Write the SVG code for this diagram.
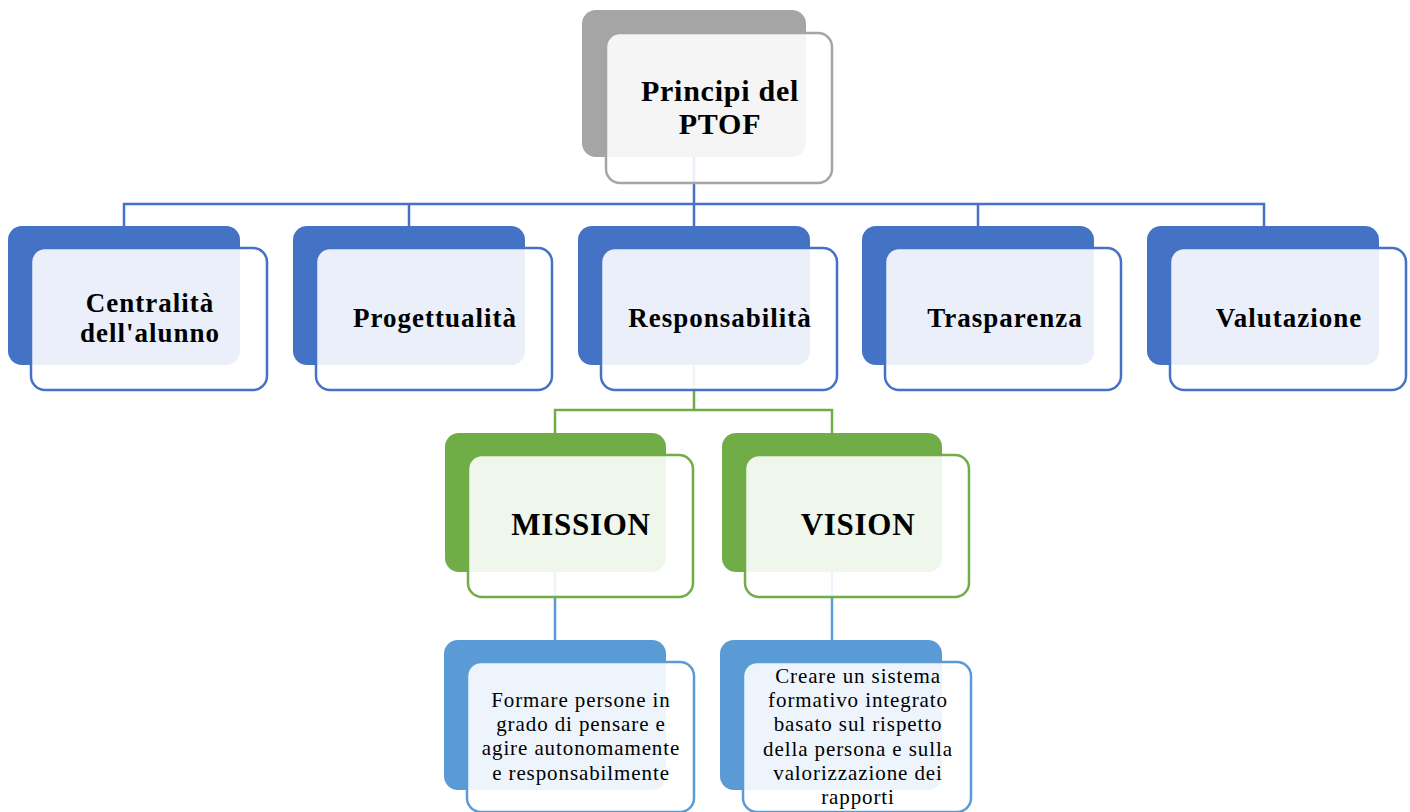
<svg xmlns="http://www.w3.org/2000/svg" width="1410" height="812" viewBox="0 0 1410 812">
<style>
.front{fill:#ffffff;fill-opacity:0.89;stroke-width:2.5}
.t{font-family:"Liberation Serif","Times New Roman",serif;fill:#000;text-anchor:middle;dominant-baseline:central}
.b{font-weight:bold}
.h1{font-size:30px;letter-spacing:0.75px}
.h2{font-size:27px;letter-spacing:1px}
.h3{font-size:31px;letter-spacing:0.7px}
.p{font-size:21px;letter-spacing:0.9px}
.gray .back{fill:#A5A5A5}.gray .front{stroke:#A5A5A5}
.blue .back{fill:#4472C4}.blue .front{stroke:#4472C4}
.green .back{fill:#70AD47}.green .front{stroke:#70AD47}
.lb .back{fill:#5B9BD5}.lb .front{stroke:#5B9BD5}
.c{fill:none;stroke-width:2.5}
</style>
<rect width="1410" height="812" fill="#ffffff"/>
<g id="connectors">
<path class="c" stroke="#4472C4" d="M694 157V204M124 226V204H1264V226M409 204V226M694 204V226M978 204V226"/>
<path class="c" stroke="#70AD47" d="M694 365V410M555 433V410H832V433"/>
<path class="c" stroke="#5B9BD5" d="M555 572V640M832 572V640"/>
</g>
<g id="node-principi" class="gray">
<rect class="back" x="582" y="10" width="224" height="147" rx="14"/>
<rect class="front" x="606" y="33" width="226" height="150" rx="14"/>
<text class="t b h1" x="720" y="90">Principi del</text>
<text class="t b h1" x="720" y="123">PTOF</text>
</g>
<g id="node-centralita" class="blue">
<rect class="back" x="8" y="226" width="232" height="139" rx="14"/>
<rect class="front" x="31" y="248" width="236" height="142" rx="14"/>
<text class="t b h2" x="150" y="303">Centralità</text>
<text class="t b h2" x="150" y="333">dell'alunno</text>
</g>
<g id="node-progettualita" class="blue">
<rect class="back" x="293" y="226" width="232" height="139" rx="14"/>
<rect class="front" x="316" y="248" width="236" height="142" rx="14"/>
<text class="t b h2" x="435" y="318">Progettualità</text>
</g>
<g id="node-responsabilita" class="blue">
<rect class="back" x="578" y="226" width="232" height="139" rx="14"/>
<rect class="front" x="601" y="248" width="236" height="142" rx="14"/>
<text class="t b h2" x="720" y="318">Responsabilità</text>
</g>
<g id="node-trasparenza" class="blue">
<rect class="back" x="862" y="226" width="232" height="139" rx="14"/>
<rect class="front" x="885" y="248" width="236" height="142" rx="14"/>
<text class="t b h2" x="1005" y="318">Trasparenza</text>
</g>
<g id="node-valutazione" class="blue">
<rect class="back" x="1147" y="226" width="232" height="139" rx="14"/>
<rect class="front" x="1170" y="248" width="236" height="142" rx="14"/>
<text class="t b h2" x="1289" y="318">Valutazione</text>
</g>
<g id="node-mission" class="green">
<rect class="back" x="445" y="433" width="221" height="139" rx="14"/>
<rect class="front" x="468" y="455" width="225" height="142" rx="14"/>
<text class="t b h3" x="581" y="524">MISSION</text>
</g>
<g id="node-vision" class="green">
<rect class="back" x="722" y="433" width="220" height="139" rx="14"/>
<rect class="front" x="745" y="455" width="224" height="142" rx="14"/>
<text class="t b h3" x="858" y="524">VISION</text>
</g>
<g id="node-mission-text" class="lb">
<rect class="back" x="444" y="640" width="222" height="150" rx="14"/>
<rect class="front" x="467" y="662" width="227" height="150" rx="14"/>
<text class="t p" x="581" y="700">Formare persone in</text>
<text class="t p" x="581" y="724">grado di pensare e</text>
<text class="t p" x="581" y="748">agire autonomamente</text>
<text class="t p" x="581" y="773">e responsabilmente</text>
</g>
<g id="node-vision-text" class="lb">
<rect class="back" x="720" y="640" width="222" height="150" rx="14"/>
<rect class="front" x="743" y="662" width="228" height="150" rx="14"/>
<text class="t p" x="858" y="676">Creare un sistema</text>
<text class="t p" x="858" y="700">formativo integrato</text>
<text class="t p" x="858" y="724">basato sul rispetto</text>
<text class="t p" x="858" y="749">della persona e sulla</text>
<text class="t p" x="858" y="773">valorizzazione dei</text>
<text class="t p" x="858" y="797">rapporti</text>
</g>
</svg>
